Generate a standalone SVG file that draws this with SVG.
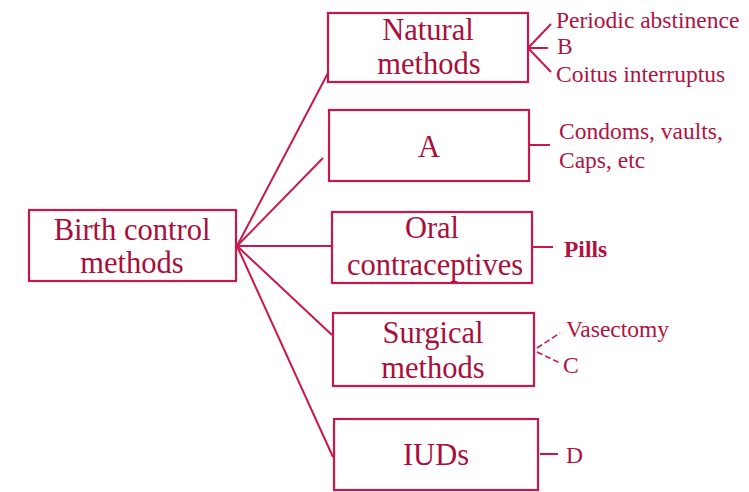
<svg xmlns="http://www.w3.org/2000/svg" width="749" height="492" viewBox="0 0 749 492">
<style>
.box{fill:#fff;stroke:#c8174c;stroke-width:2.2}
.nt{font-family:"Liberation Serif","Times New Roman",serif;font-size:30.5px;fill:#a80f3c;text-anchor:middle}
.lt{font-family:"Liberation Serif","Times New Roman",serif;font-size:23.5px;fill:#b01242}
.ln{stroke:#c8174c;stroke-width:2;fill:none}
.ds{stroke:#c8174c;stroke-width:1.6;fill:none;stroke-dasharray:6 3}
</style>
<rect width="749" height="492" fill="#fff"/>
<g id="connectors">
<line class="ln" x1="237" y1="246" x2="328" y2="73"/>
<line class="ln" x1="237" y1="246" x2="323" y2="158"/>
<line class="ln" x1="237" y1="246" x2="332" y2="246"/>
<line class="ln" x1="237" y1="246" x2="332" y2="335"/>
<line class="ln" x1="237" y1="246" x2="333" y2="457"/>
<line class="ln" x1="528" y1="48" x2="551" y2="24"/>
<line class="ln" x1="528" y1="48" x2="548" y2="48"/>
<line class="ln" x1="528" y1="48" x2="551" y2="72"/>
<line class="ln" x1="530" y1="145" x2="550" y2="145"/>
<line class="ln" x1="533" y1="247" x2="553" y2="247"/>
<line class="ds" x1="537" y1="348" x2="560" y2="333"/>
<line class="ds" x1="537" y1="352" x2="560" y2="363"/>
<line class="ln" x1="540" y1="454" x2="558" y2="454"/>
</g>
<g id="birth-control">
<rect class="box" x="29" y="210" width="207" height="71"/>
<text class="nt" x="132" y="240">Birth control</text>
<text class="nt" x="132" y="273">methods</text>
</g>
<g id="natural">
<rect class="box" x="328" y="13" width="200" height="69"/>
<text class="nt" x="428" y="40">Natural</text>
<text class="nt" x="429" y="74">methods</text>
<text class="lt" x="556" y="28">Periodic abstinence</text>
<text class="lt" x="557" y="54">B</text>
<text class="lt" x="556" y="82">Coitus interruptus</text>
</g>
<g id="a">
<rect class="box" x="329" y="110" width="200" height="71"/>
<text class="nt" x="429" y="157">A</text>
<text class="lt" x="559" y="139">Condoms, vaults,</text>
<text class="lt" x="559" y="168">Caps, etc</text>
</g>
<g id="oral">
<rect class="box" x="332" y="212" width="200" height="71"/>
<text class="nt" x="432" y="238">Oral</text>
<text class="nt" x="435" y="275">contraceptives</text>
<text class="lt" x="564" y="257" font-weight="bold">Pills</text>
</g>
<g id="surgical">
<rect class="box" x="333" y="313" width="201" height="73"/>
<text class="nt" x="433" y="343">Surgical</text>
<text class="nt" x="433" y="378">methods</text>
<text class="lt" x="566" y="337">Vasectomy</text>
<text class="lt" x="563" y="373">C</text>
</g>
<g id="iuds">
<rect class="box" x="334" y="419" width="204" height="71"/>
<text class="nt" x="436" y="465">IUDs</text>
<text class="lt" x="566" y="463">D</text>
</g>
</svg>
